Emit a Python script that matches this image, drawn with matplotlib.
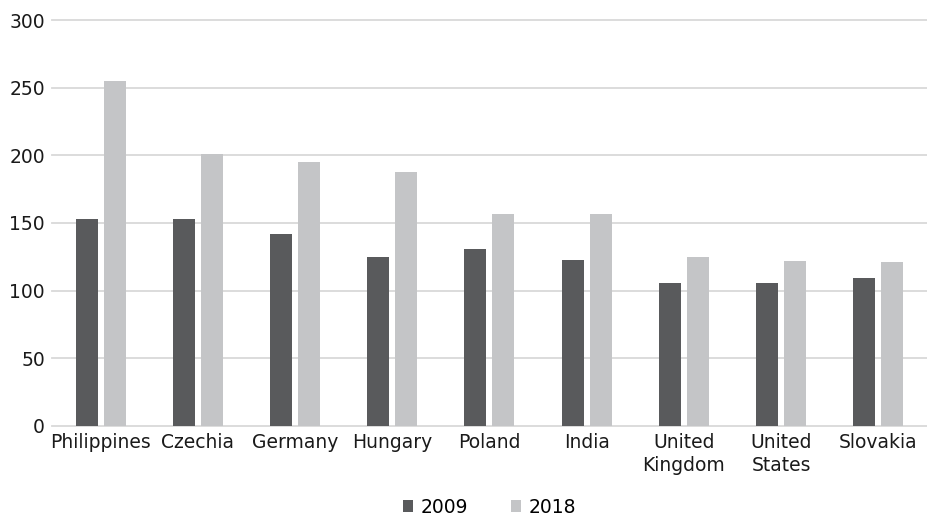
import numpy as np
import matplotlib.pyplot as plt

# Data
countries = ['Philippines', 'Czechia', 'Germany', 'Hungary', 'Poland', 'India',
             'United\nKingdom', 'United\nStates', 'Slovakia']
v2009 = [153, 153, 142, 125, 131, 123, 106, 106, 109]
v2018 = [255, 201, 195, 188, 157, 157, 125, 122, 121]
years = ['2009', '2018']

plt.rcParams['font.family'] = ['DejaVu Sans']

dark = '#595a5c'
light = '#c4c5c7'

fig = plt.figure(figsize=(9.27, 5.15), dpi=100)
ax = fig.add_axes([0.056, 0.173, 0.944, 0.788])

x = np.arange(len(countries))
w = 0.226
off = 0.144
ax.bar(x - off, v2009, width=w, color=dark, label=years[0], zorder=3)
ax.bar(x + off, v2018, width=w, color=light, label=years[1], zorder=3)

ax.set_xlim(-0.5, len(countries) - 0.5)
ax.set_ylim(0, 300)
ax.set_yticks(np.arange(0, 301, 50))
ax.yaxis.grid(True, color='#d9d9d9', linewidth=1.3, zorder=0)
for gl in ax.get_ygridlines():
    gl.set_clip_on(False)
for s in ax.spines.values():
    s.set_visible(False)
ax.tick_params(axis='both', length=0, labelsize=13.5, colors='#1a1a1a')
ax.tick_params(axis='y', pad=5)
ax.tick_params(axis='x', pad=5)
ax.set_xticks(x)
ax.set_xticklabels(countries, linespacing=1.25)

ax.legend(loc='upper center', bbox_to_anchor=(0.5, -0.135), ncol=2, frameon=False,
          fontsize=13.5, handlelength=0.55, handleheight=0.55, handletextpad=0.4,
          columnspacing=2.3)

fig.savefig('out.png', dpi=100)
